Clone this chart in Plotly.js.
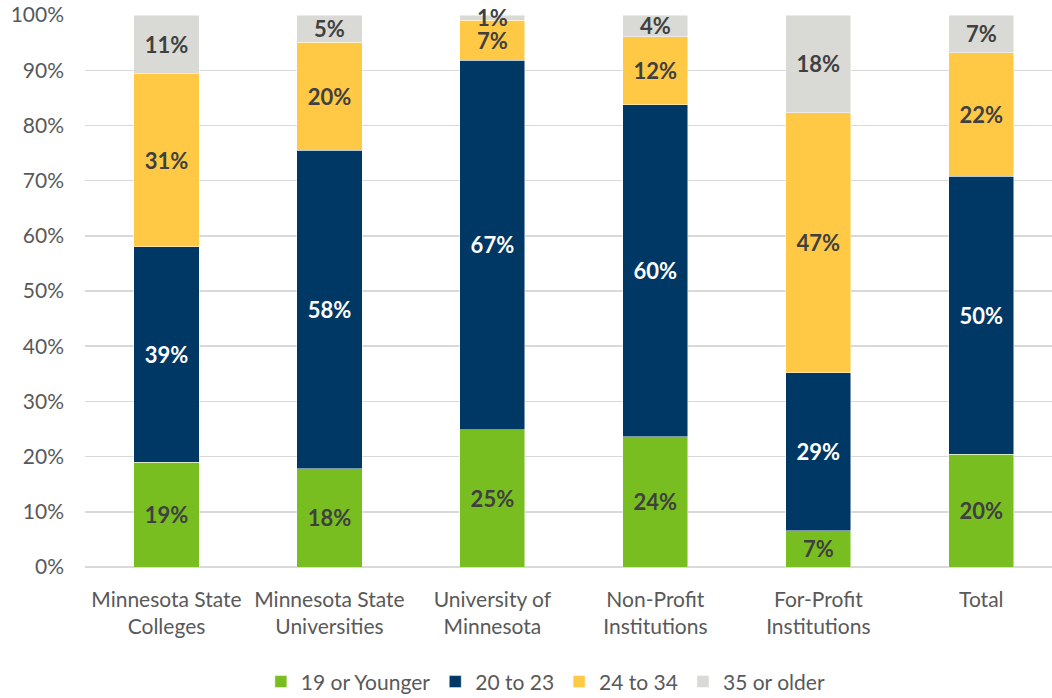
<!DOCTYPE html>
<html>
<head>
<meta charset="utf-8">
<script src="https://cdn.plot.ly/plotly-3.0.1.min.js"></script>
<style>html,body{margin:0;padding:0;background:#fff;}#chart{width:1052px;height:698px;}</style>
</head>
<body>
<div id="chart"></div>
<script>
const categories = ["Minnesota State<br>Colleges", "Minnesota State<br>Universities", "University of<br>Minnesota", "Non-Profit<br>Institutions", "For-Profit<br>Institutions", "Total"];
const seriesNames = ["19 or Younger", "20 to 23", "24 to 34", "35 or older"];
const age19OrYounger = [19.0, 17.8, 24.9, 23.6, 6.6, 20.4];
const age20to23      = [39.0, 57.7, 66.9, 60.2, 28.6, 50.4];
const age24to34      = [31.4, 19.6, 7.3, 12.3, 47.1, 22.4];
const age35OrOlder   = [10.6, 4.9, 0.9, 3.9, 17.7, 6.8];
const yTickValues = [0, 10, 20, 30, 40, 50, 60, 70, 80, 90, 100];
const yTickLabels = ["0%", "10%", "20%", "30%", "40%", "50%", "60%", "70%", "80%", "90%", "100%"];

const colors = ["#78BE21", "#003865", "#FFC845", "#D9D9D6"];
const textColors = ["#404040", "#FFFFFF", "#404040", "#404040"];
const allSeries = [age19OrYounger, age20to23, age24to34, age35OrOlder];
const labelFont = "Lato, 'Open Sans', sans-serif";

const traces = allSeries.map((vals, i) => ({
  type: "bar",
  name: seriesNames[i],
  x: categories,
  y: vals,
  marker: { color: colors[i], line: { color: "rgba(255,255,255,0.6)", width: 0.8 } },
  texttemplate: "%{y:.0f}%",
  textposition: "inside",
  insidetextanchor: "middle",
  constraintext: "none",
  textangle: 0,
  cliponaxis: false,
  textfont: { family: labelFont, size: 22, color: textColors[i], weight: "bold" },
  hoverinfo: "skip"
}));

const layout = {
  width: 1052,
  height: 698,
  barmode: "stack",
  bargap: 0.6,
  paper_bgcolor: "#FFFFFF",
  plot_bgcolor: "#FFFFFF",
  margin: { l: 85, r: 0, t: 15, b: 131, pad: 0, autoexpand: false },
  showlegend: true,
  legend: {
    orientation: "h",
    x: 0.4766,
    xanchor: "center",
    yref: "container",
    y: 0.023,
    yanchor: "middle",
    itemwidth: 30,
    font: { family: labelFont, size: 21, color: "#595959" },
    traceorder: "normal",
    itemclick: false,
    itemdoubleclick: false
  },
  xaxis: {
    type: "category",
    range: [-0.5, 5.434],
    automargin: false,
    showgrid: false,
    showline: false,
    zeroline: false,
    ticks: "",
    ticklabelstandoff: 18,
    tickfont: { family: labelFont, size: 21, color: "#595959" },
    fixedrange: true
  },
  yaxis: {
    range: [0, 100.02],
    automargin: false,
    tickmode: "array",
    tickvals: yTickValues,
    ticktext: yTickLabels,
    showgrid: true,
    gridcolor: "#D9D9D9",
    gridwidth: 1.5,
    zeroline: true,
    zerolinecolor: "#D9D9D9",
    zerolinewidth: 1.5,
    showline: false,
    ticks: "",
    ticklabelstandoff: 20,
    tickfont: { family: labelFont, size: 21, color: "#595959" },
    fixedrange: true
  }
};

Plotly.newPlot("chart", traces, layout, { displayModeBar: false, staticPlot: true });
</script>
</body>
</html>
